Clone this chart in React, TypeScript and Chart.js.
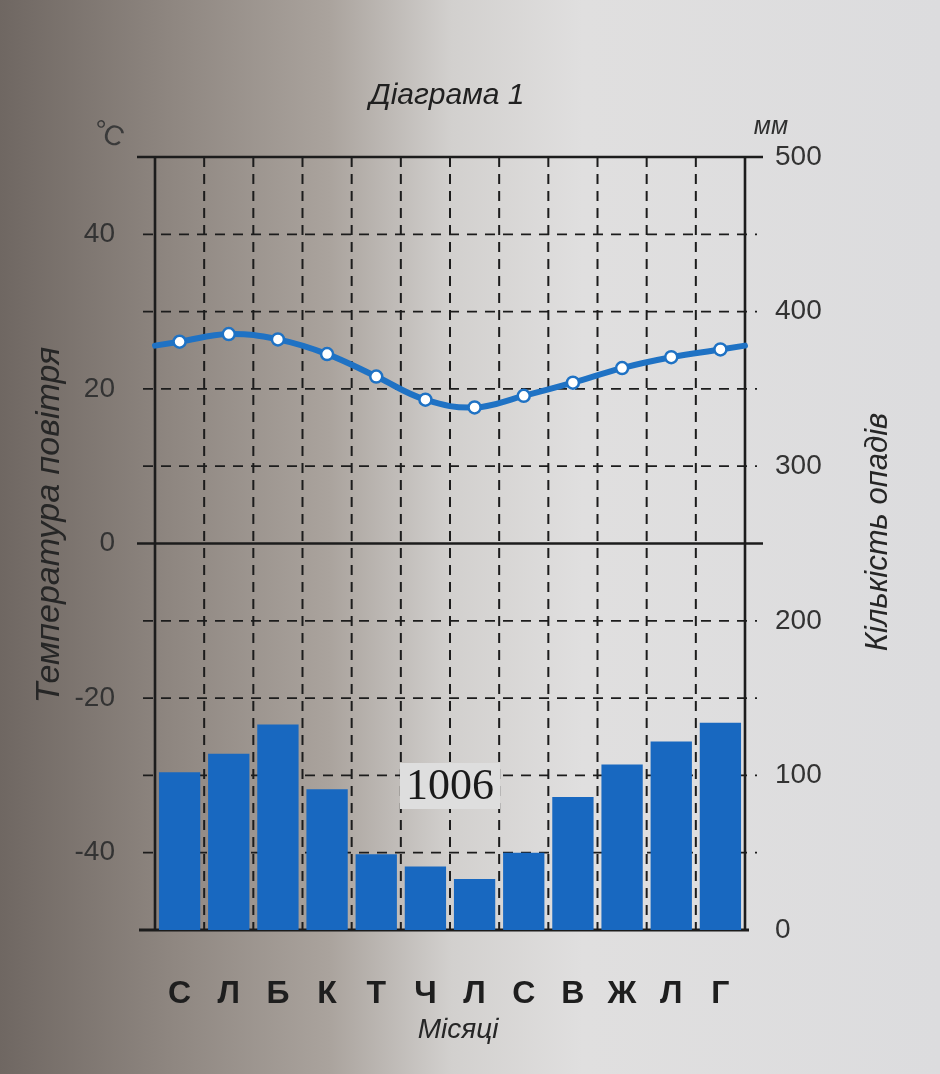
import React, { useEffect, useRef } from 'react';
import { Chart, registerables } from 'chart.js';

Chart.register(...registerables);

const months = ['С', 'Л', 'Б', 'К', 'Т', 'Ч', 'Л', 'С', 'В', 'Ж', 'Л', 'Г'];
const temperature = [26.1, 27.1, 26.4, 24.5, 21.6, 18.6, 17.6, 19.1, 20.8, 22.7, 24.1, 25.1];
const precipitation = [102, 114, 133, 91, 49, 41, 33, 50, 86, 107, 122, 134];
const tempLabelledTicks = [-40, -20, 0, 20, 40];
const totalPrecip = '1006';
const chartTitle = 'Діаграма 1';
const tempAxisTitle = 'Температура повітря';
const precipAxisTitle = 'Кількість опадів';
const monthAxisTitle = 'Місяці';
const tempUnit = '°C';
const precipUnit = 'мм';

const SANS = '"Liberation Sans", Arial, sans-serif';
const SERIF = '"Liberation Serif", "Times New Roman", serif';
const LINE_BLUE = '#1f72c4';
const BAR_BLUE = '#1868c0';
const INK = '#1c1c1c';

const backgroundPlugin = {
  id: 'photoBackground',
  beforeDraw(chart: any) {
    const { ctx, width, height } = chart;
    ctx.save();
    const g = ctx.createLinearGradient(0, 0, width, 0);
    g.addColorStop(0, '#6f6762');
    g.addColorStop(0.18, '#8e8680');
    g.addColorStop(0.35, '#aaa39d');
    g.addColorStop(0.48, '#d2d0ce');
    g.addColorStop(0.62, '#e0dfdf');
    g.addColorStop(1, '#dcdcde');
    ctx.fillStyle = g;
    ctx.fillRect(0, 0, width, height);
    ctx.restore();
  },
};

const framePlugin = {
  id: 'climateFrame',
  beforeDatasetsDraw(chart: any) {
    const { ctx, chartArea, scales } = chart;
    const { left, right, top, bottom } = chartArea;
    const x = scales.x;
    const y = scales.y;
    ctx.save();
    ctx.strokeStyle = INK;
    // horizontal dashed grid every 10 °C
    ctx.lineWidth = 1.7;
    ctx.setLineDash([10, 8]);
    for (let v = -40; v <= 40; v += 10) {
      if (v === 0) continue;
      const py = y.getPixelForValue(v);
      ctx.beginPath();
      ctx.moveTo(left - 12, py);
      ctx.lineTo(right + 12, py);
      ctx.stroke();
    }
    // vertical dashed lines between months
    ctx.lineWidth = 2;
    ctx.setLineDash([10, 7]);
    for (let i = 1; i < months.length; i++) {
      const px = (x.getPixelForValue(i - 1) + x.getPixelForValue(i)) / 2;
      ctx.beginPath();
      ctx.moveTo(px, top);
      ctx.lineTo(px, bottom);
      ctx.stroke();
    }
    // solid frame
    ctx.setLineDash([]);
    ctx.lineWidth = 2.6;
    ctx.beginPath();
    ctx.moveTo(left - 18, top);
    ctx.lineTo(right + 18, top);
    ctx.stroke();
    const y0 = y.getPixelForValue(0);
    ctx.beginPath();
    ctx.moveTo(left - 18, y0);
    ctx.lineTo(right + 18, y0);
    ctx.stroke();
    ctx.beginPath();
    ctx.moveTo(left, top);
    ctx.lineTo(left, bottom);
    ctx.moveTo(right, top);
    ctx.lineTo(right, bottom);
    ctx.stroke();
    ctx.lineWidth = 3.2;
    ctx.beginPath();
    ctx.moveTo(left - 16, bottom);
    ctx.lineTo(right + 4, bottom);
    ctx.stroke();
    // temperature curve continuing to the frame edges (year wraps around)
    const edgeVal = (temperature[0] + temperature[temperature.length - 1]) / 2;
    const ye = y.getPixelForValue(edgeVal);
    ctx.strokeStyle = LINE_BLUE;
    ctx.lineWidth = 6;
    ctx.lineCap = 'round';
    ctx.beginPath();
    ctx.moveTo(left, ye);
    ctx.lineTo(x.getPixelForValue(0), y.getPixelForValue(temperature[0]));
    ctx.moveTo(x.getPixelForValue(temperature.length - 1), y.getPixelForValue(temperature[temperature.length - 1]));
    ctx.lineTo(right, ye);
    ctx.stroke();
    ctx.restore();
  },
};

const textPlugin = {
  id: 'climateTexts',
  afterDraw(chart: any) {
    const { ctx, chartArea, scales } = chart;
    const { left, right, top, bottom } = chartArea;
    const x = scales.x;
    const y = scales.y;
    ctx.save();
    ctx.textAlign = 'center';
    ctx.textBaseline = 'middle';

    ctx.fillStyle = '#202020';
    ctx.font = `italic 30px ${SANS}`;
    ctx.fillText(chartTitle, (left + right) / 2 - 3, 96);

    ctx.fillStyle = '#3a3a3a';
    ctx.font = `28px ${SANS}`;
    ctx.save();
    ctx.translate(left - 47, top - 22);
    ctx.rotate(0.35);
    ctx.fillText(tempUnit, 0, 0);
    ctx.restore();

    ctx.fillStyle = '#303030';
    ctx.font = `italic 25px ${SANS}`;
    ctx.fillText(precipUnit, right + 26, top - 30);

    // total precipitation
    const tx = (x.getPixelForValue(5) + x.getPixelForValue(6)) / 2;
    const ty = y.getPixelForValue(-31.5);
    ctx.font = `44px ${SERIF}`;
    const w = ctx.measureText(totalPrecip).width;
    ctx.fillStyle = '#dedede';
    ctx.fillRect(tx - w / 2 - 6, ty - 24, w + 12, 46);
    ctx.fillStyle = '#1a1a1a';
    ctx.fillText(totalPrecip, tx, ty);

    // axis titles
    ctx.fillStyle = '#262626';
    ctx.font = `italic 34px ${SANS}`;
    ctx.save();
    ctx.translate(50, 525);
    ctx.rotate(-Math.PI / 2);
    ctx.fillText(tempAxisTitle, 0, 0);
    ctx.restore();

    ctx.font = `italic 31px ${SANS}`;
    ctx.save();
    ctx.translate(878, 532);
    ctx.rotate(-Math.PI / 2);
    ctx.fillText(precipAxisTitle, 0, 0);
    ctx.restore();

    ctx.font = `italic 28px ${SANS}`;
    ctx.fillText(monthAxisTitle, (left + right) / 2 + 8, 1030);
    ctx.restore();
  },
};

export default function App() {
  const canvasRef = useRef<HTMLCanvasElement | null>(null);

  useEffect(() => {
    if (!canvasRef.current) return;
    const chart = new Chart(canvasRef.current, {
      type: 'bar',
      data: {
        labels: months,
        datasets: [
          {
            type: 'line',
            label: 'Температура',
            data: temperature,
            yAxisID: 'y',
            borderColor: LINE_BLUE,
            borderWidth: 6,
            tension: 0.4,
            pointRadius: 6,
            pointBackgroundColor: '#ffffff',
            pointBorderColor: LINE_BLUE,
            pointBorderWidth: 2.5,
            order: 0,
          } as any,
          {
            type: 'bar',
            label: 'Опади',
            data: precipitation,
            yAxisID: 'y1',
            backgroundColor: BAR_BLUE,
            barPercentage: 0.84,
            categoryPercentage: 1,
            order: 1,
          },
        ],
      },
      options: {
        animation: false,
        responsive: true,
        maintainAspectRatio: false,
        layout: { padding: { top: 157, left: 0, right: 0, bottom: 0 } },
        plugins: {
          legend: { display: false },
          tooltip: { enabled: false },
          title: { display: false },
        },
        scales: {
          x: {
            type: 'category',
            offset: true,
            grid: { display: false },
            border: { display: false },
            ticks: {
              color: '#1e1e1e',
              font: { family: SANS, size: 32, weight: 'bold' },
              padding: 37,
              maxRotation: 0,
              autoSkip: false,
            },
            afterFit(scale: any) {
              scale.height = 144;
            },
          },
          y: {
            type: 'linear',
            position: 'left',
            min: -50,
            max: 50,
            grid: { display: false, drawTicks: false },
            border: { display: false },
            ticks: {
              stepSize: 10,
              autoSkip: false,
              padding: 40,
              color: '#333333',
              font: { family: SANS, size: 28 },
              callback: (v: any) => (tempLabelledTicks.includes(Number(v)) ? String(v) : ''),
            },
            afterFit(scale: any) {
              scale.width = 155;
            },
          },
          y1: {
            type: 'linear',
            position: 'right',
            min: 0,
            max: 500,
            grid: { display: false, drawTicks: false },
            border: { display: false },
            ticks: {
              stepSize: 100,
              autoSkip: false,
              padding: 30,
              color: '#333333',
              font: { family: SANS, size: 28 },
            },
            afterFit(scale: any) {
              scale.width = 195;
            },
          },
        },
      },
      plugins: [backgroundPlugin, framePlugin, textPlugin],
    });
    return () => chart.destroy();
  }, []);

  return (
    <div style={{ position: 'fixed', left: 0, top: 0, width: 940, height: 1074 }}>
      <canvas ref={canvasRef} />
    </div>
  );
}
